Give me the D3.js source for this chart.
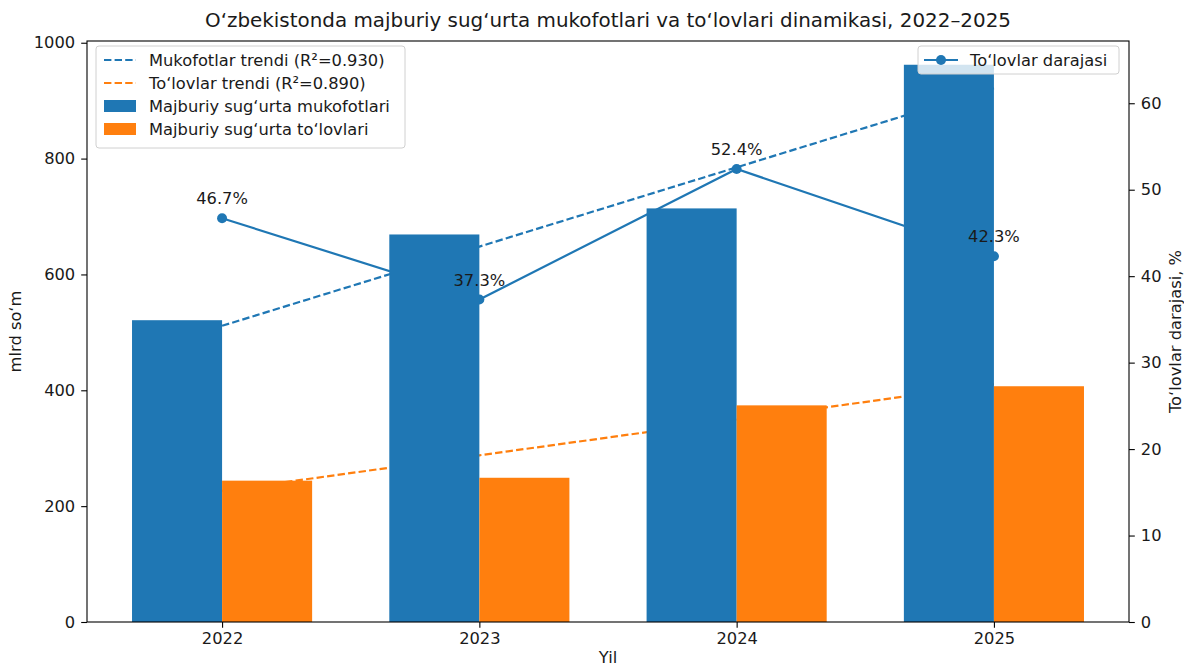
<!DOCTYPE html>
<html>
<head>
<meta charset="utf-8">
<script src="https://cdn.jsdelivr.net/npm/d3@7"></script>
<style>
  body { margin: 0; background: #fff; }
  svg text { font-family: "DejaVu Sans", sans-serif; fill: #1a1a1a; }
</style>
</head>
<body>
<div id="chart"></div>
<script>
// data
var years = ["2022", "2023", "2024", "2025"];
var premiums = [521, 669, 714, 962];   // mlrd so'm
var payments = [244, 249, 374, 407];   // mlrd so'm
var payoutRate = [46.7, 37.3, 52.4, 42.3]; // %
var leftTicks = [0, 200, 400, 600, 800, 1000];
var rightTicks = [0, 10, 20, 30, 40, 50, 60];

var blue = "#1f77b4", orange = "#ff7f0e";
var W = 1184, H = 668;
var margin = { top: 41, right: 55, bottom: 46, left: 87 };
var x0 = margin.left, x1 = W - margin.right, yTop = margin.top, yBot = H - margin.bottom;

var svg = d3.select("#chart").append("svg").attr("width", W).attr("height", H);

var x = d3.scaleLinear().domain([-0.525, 3.525]).range([x0, x1]);
var y = d3.scaleLinear().domain([0, 1003]).range([yBot, yTop]);
var y2 = d3.scaleLinear().domain([0, 67.2]).range([yBot, yTop]);
var bw = 0.35;

// least squares trend through bar values
function fit(vals) {
  var mx = d3.mean(vals, function (d, i) { return i; }), my = d3.mean(vals);
  var sxy = 0, sxx = 0;
  vals.forEach(function (v, i) { sxy += (i - mx) * (v - my); sxx += (i - mx) * (i - mx); });
  var b = sxy / sxx;
  return vals.map(function (v, i) { return my + b * (i - mx); });
}

var dash = "7.4,3.2";
var line = d3.line().x(function (d, i) { return x(i); });

// trends sit behind the bars
svg.append("path").attr("d", line.y(function (d) { return y(d); })(fit(premiums)))
  .attr("fill", "none").attr("stroke", blue).attr("stroke-width", 2.2).attr("stroke-dasharray", dash);
svg.append("path").attr("d", line.y(function (d) { return y(d); })(fit(payments)))
  .attr("fill", "none").attr("stroke", orange).attr("stroke-width", 2.2).attr("stroke-dasharray", dash);

// payout rate line (twin axis)
svg.append("path").attr("d", line.y(function (d) { return y2(d); })(payoutRate))
  .attr("fill", "none").attr("stroke", blue).attr("stroke-width", 2.2);
svg.selectAll(".dot").data(payoutRate).enter().append("circle")
  .attr("cx", function (d, i) { return x(i); })
  .attr("cy", function (d) { return y2(d); })
  .attr("r", 5).attr("fill", blue);

// bars
svg.selectAll(".prem").data(premiums).enter().append("rect")
  .attr("x", function (d, i) { return x(i - bw); })
  .attr("width", x(bw) - x(0))
  .attr("y", function (d) { return y(d); })
  .attr("height", function (d) { return yBot - y(d); })
  .attr("fill", blue);
svg.selectAll(".pay").data(payments).enter().append("rect")
  .attr("x", function (d, i) { return x(i); })
  .attr("width", x(bw) - x(0))
  .attr("y", function (d) { return y(d); })
  .attr("height", function (d) { return yBot - y(d); })
  .attr("fill", orange);

var fs = 16.3;

// value labels
svg.selectAll(".lbl").data(payoutRate).enter().append("text")
  .attr("x", function (d, i) { return x(i); })
  .attr("y", function (d) { return y2(d) - 14; })
  .attr("text-anchor", "middle").attr("font-size", fs)
  .text(function (d) { return d.toFixed(1) + "%"; });

// axes
var gx = svg.append("g").attr("transform", "translate(0," + yBot + ")")
  .call(d3.axisBottom(x).tickValues([0, 1, 2, 3]).tickFormat(function (d) { return years[d]; }).tickSize(5.8).tickPadding(5));
var gl = svg.append("g").attr("transform", "translate(" + x0 + ",0)")
  .call(d3.axisLeft(y).tickValues(leftTicks).tickFormat(d3.format("d")).tickSize(5.8).tickPadding(6));
var gr = svg.append("g").attr("transform", "translate(" + x1 + ",0)")
  .call(d3.axisRight(y2).tickValues(rightTicks).tickFormat(d3.format("d")).tickSize(5.8).tickPadding(6));
[gx, gl, gr].forEach(function (g) {
  g.select(".domain").remove();
  g.selectAll("line").attr("stroke", "#000").attr("stroke-width", 1.1);
  g.selectAll("text").attr("font-size", fs).attr("font-family", "DejaVu Sans").attr("fill", "#1a1a1a");
});
svg.append("rect").attr("x", x0).attr("y", yTop).attr("width", x1 - x0).attr("height", yBot - yTop)
  .attr("fill", "none").attr("stroke", "#000").attr("stroke-width", 1.1);

// titles
svg.append("text").attr("x", (x0 + x1) / 2).attr("y", 27).attr("text-anchor", "middle")
  .attr("font-size", 19.9).text("O‘zbekistonda majburiy sug‘urta mukofotlari va to‘lovlari dinamikasi, 2022–2025");
svg.append("text").attr("x", (x0 + x1) / 2).attr("y", 663).attr("text-anchor", "middle")
  .attr("font-size", fs).text("Yil");
svg.append("text").attr("transform", "translate(21," + (yTop + yBot) / 2 + ") rotate(-90)")
  .attr("text-anchor", "middle").attr("font-size", fs).text("mlrd so‘m");
svg.append("text").attr("transform", "translate(1181," + (yTop + yBot) / 2 + ") rotate(-90)")
  .attr("text-anchor", "middle").attr("font-size", fs).text("To‘lovlar darajasi, %");

// left legend
var legL = [
  { label: "Mukofotlar trendi (R²=0.930)", color: blue, type: "dash" },
  { label: "To‘lovlar trendi (R²=0.890)", color: orange, type: "dash" },
  { label: "Majburiy sug‘urta mukofotlari", color: blue, type: "box" },
  { label: "Majburiy sug‘urta to‘lovlari", color: orange, type: "box" }
];
var lg = svg.append("g");
lg.append("rect").attr("x", 96).attr("y", 46).attr("width", 309).attr("height", 102).attr("rx", 3)
  .attr("fill", "#fff").attr("fill-opacity", 0.8).attr("stroke", "#d0d0d0");
legL.forEach(function (d, i) {
  var cy = 60 + i * 23;
  if (d.type === "dash") {
    lg.append("line").attr("x1", 104).attr("x2", 136).attr("y1", cy).attr("y2", cy)
      .attr("stroke", d.color).attr("stroke-width", 2.2).attr("stroke-dasharray", dash);
  } else {
    lg.append("rect").attr("x", 104).attr("y", cy - 6).attr("width", 32).attr("height", 12).attr("fill", d.color);
  }
  lg.append("text").attr("x", 149).attr("y", cy + 5.5).attr("font-size", fs).text(d.label);
});

// right legend
var rg = svg.append("g");
rg.append("rect").attr("x", 918).attr("y", 46).attr("width", 201).attr("height", 28).attr("rx", 3)
  .attr("fill", "#fff").attr("fill-opacity", 0.8).attr("stroke", "#d0d0d0");
rg.append("line").attr("x1", 924).attr("x2", 958).attr("y1", 60).attr("y2", 60)
  .attr("stroke", blue).attr("stroke-width", 2.2);
rg.append("circle").attr("cx", 941).attr("cy", 60).attr("r", 5).attr("fill", blue);
rg.append("text").attr("x", 970).attr("y", 65.5).attr("font-size", fs).text("To‘lovlar darajasi");
</script>
</body>
</html>
